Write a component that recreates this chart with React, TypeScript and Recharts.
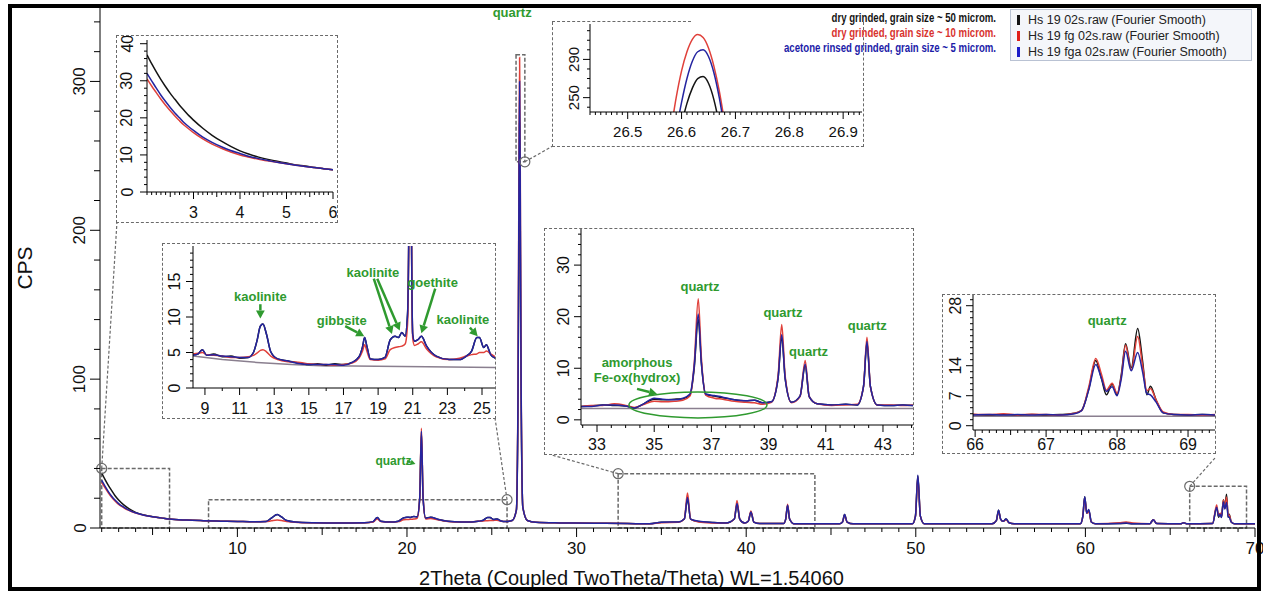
import React from 'react';
import { LineChart, Line, XAxis, YAxis, ReferenceArea, ReferenceLine, ReferenceDot } from 'recharts';

const FONT = "'Liberation Sans', Arial, sans-serif";
const BLACK = '#141414';
const RED = '#e0403a';
const BLUE = '#2424a0';
const GREEN = '#2f9a2f';
const GRAYBG = '#8a7f8f';
const DASH = '#6a6a6a';

// ---------------- main pattern ----------------
const mainTheta = [2.0, 2.2, 2.4, 2.6, 2.8, 3.0, 3.3, 3.6, 4.0, 4.5, 5.0, 5.5, 6.0, 7.0, 8.0, 9.0, 10.0, 11.0, 11.7, 12.0, 12.35, 12.6, 12.9, 13.4, 14.5, 16.0, 17.5, 18.0, 18.25, 18.45, 19.0, 19.5, 19.8, 20.0, 20.2, 20.4, 20.6, 20.75, 20.85, 20.95, 21.1, 21.4, 21.8, 22.4, 23.2, 23.8, 24.2, 24.5, 24.75, 24.9, 25.1, 25.3, 25.55, 25.8, 26.2, 26.45, 26.55, 26.6, 26.64, 26.68, 26.73, 26.83, 27.1, 27.6, 29.0, 31.0, 33.0, 34.3, 35.0, 36.0, 36.35, 36.54, 36.72, 37.2, 38.0, 38.8, 39.3, 39.46, 39.62, 39.9, 40.12, 40.28, 40.45, 40.8, 42.2, 42.33, 42.44, 42.56, 42.8, 45.5, 45.68, 45.8, 45.95, 46.3, 49.8, 49.98, 50.12, 50.27, 50.5, 54.5, 54.75, 54.88, 55.0, 55.15, 55.32, 55.5, 55.8, 59.7, 59.85, 59.96, 60.08, 60.2, 60.35, 60.6, 62.0, 62.4, 62.8, 63.8, 64.0, 64.2, 65.6, 65.8, 66.0, 67.5, 67.74, 67.85, 67.95, 68.02, 68.14, 68.22, 68.32, 68.42, 68.48, 68.6, 68.8, 70.0];
const mainBlack = [37, 32.5, 28.5, 25, 21.5, 18.8, 15.5, 13, 10.5, 8.7, 7.6, 6.8, 6.0, 5.3, 4.9, 4.6, 4.4, 4.2, 4.4, 6.6, 9, 7.4, 5, 4, 3.5, 3.3, 3.5, 4.2, 7, 4.5, 4, 4.6, 6.8, 7.3, 7.1, 7.8, 7.5, 20, 64, 20, 6.6, 7.2, 5.9, 4.5, 4, 4, 4.5, 5.2, 7.1, 7, 5.7, 6.1, 4.7, 4.3, 5, 12, 90, 200, 272, 200, 90, 14, 5, 3.8, 3.4, 3.2, 3, 2.8, 3.8, 4, 6, 19.5, 6, 4.4, 3.7, 3.3, 6, 16, 6, 3.3, 4.5, 10.5, 4, 3, 3, 6, 15, 6, 2.9, 2.8, 4, 9, 4, 2.8, 2.8, 8, 35, 8, 2.8, 2.9, 5, 12, 6, 4.5, 6, 3.5, 2.8, 2.8, 8, 21, 10, 12, 4, 2.8, 3, 3.2, 2.9, 2.9, 5.5, 3, 2.8, 3.5, 2.8, 3, 14, 7.2, 9.7, 7.2, 19, 13.5, 22.7, 7.2, 9.2, 4, 2.8, 2.8];
const mainRed = [30.5, 27, 23.5, 20.5, 18, 15.8, 13.6, 11.8, 10, 8.5, 7.5, 6.8, 6.0, 5.3, 4.9, 4.6, 4.4, 4.2, 4.3, 4.8, 5.3, 5, 4.3, 3.9, 3.5, 3.3, 3.5, 4.0, 6, 4.3, 3.9, 4.3, 5.5, 5.7, 5.8, 6, 6.5, 20, 67, 21, 6, 6.3, 5.5, 4.4, 4, 4.1, 4.5, 4.7, 4.9, 5, 5.1, 5.2, 4.6, 4.3, 5, 12, 100, 240, 316, 240, 100, 14, 5, 3.8, 3.4, 3.2, 3, 2.8, 3.6, 3.8, 6, 23.5, 6, 4.1, 3.4, 3.2, 6, 18.5, 6, 3.3, 4.5, 11.5, 4, 3, 3, 6, 16, 6, 2.9, 2.8, 4, 8.5, 4, 2.8, 2.8, 8, 34, 8, 2.8, 2.9, 5, 11, 6, 4.5, 5.5, 3.5, 2.8, 2.8, 8, 20, 10, 11, 4, 2.8, 3.5, 4, 3.3, 2.9, 5.5, 3, 2.8, 3.5, 2.8, 3, 15.5, 8.3, 9.9, 7.5, 18.8, 13, 20.8, 8.2, 8.7, 4, 2.8, 2.8];
const mainBlue = [32, 28, 24.3, 21.2, 18.6, 16.4, 14, 12, 10.2, 8.6, 7.5, 6.8, 6.0, 5.3, 4.9, 4.6, 4.4, 4.2, 4.4, 6.6, 9, 7.4, 5, 4, 3.5, 3.3, 3.5, 4.3, 7.1, 4.6, 4, 4.6, 6.8, 7.3, 7.1, 7.8, 7.4, 20, 65, 20, 6.6, 7.3, 5.9, 4.5, 4, 4, 4.5, 5.2, 7.1, 7, 5.7, 6.1, 4.7, 4.3, 5, 12, 95, 225, 300, 225, 95, 14, 5, 3.8, 3.4, 3.2, 3, 2.8, 3.9, 4.1, 6, 20.5, 6, 4.5, 3.7, 3.3, 6, 16.5, 6, 3.3, 4.5, 10.8, 4, 3, 3, 6, 15.2, 6, 2.9, 2.8, 4, 9, 4, 2.8, 2.8, 8, 35.5, 8, 2.8, 2.9, 5, 12, 6, 4.5, 6, 3.5, 2.8, 2.8, 8, 21, 10, 12.5, 4, 2.8, 3, 3.3, 2.9, 2.9, 5.5, 3, 2.8, 3.5, 2.8, 3, 14, 8, 9.1, 7, 17.4, 12.8, 17.1, 7.5, 7.2, 4, 2.8, 2.8];

// ---------------- inset A: 2-6 deg ----------------
const aTheta = [2.0, 2.1, 2.2, 2.3, 2.4, 2.5, 2.6, 2.7, 2.8, 2.9, 3.0, 3.2, 3.4, 3.6, 3.8, 4.0, 4.2, 4.4, 4.6, 4.8, 5.0, 5.2, 5.4, 5.6, 5.8, 6.0];
const aBlack = [37, 34.6, 32.4, 30.3, 28.4, 26.6, 25, 23.4, 22, 20.6, 19.4, 17.2, 15.3, 13.7, 12.3, 11.1, 10.2, 9.4, 8.8, 8.3, 7.8, 7.3, 7.0, 6.6, 6.3, 6.0];
const aRed = [30.5, 28.6, 26.8, 25, 23.4, 21.9, 20.5, 19.2, 18, 17, 16, 14.3, 12.9, 11.8, 10.8, 10, 9.4, 8.8, 8.4, 8.0, 7.6, 7.2, 6.9, 6.6, 6.3, 6.0];
const aBlue = [32, 30, 28, 26.1, 24.4, 22.8, 21.3, 20, 18.7, 17.6, 16.6, 14.8, 13.4, 12.2, 11.2, 10.4, 9.6, 9.0, 8.5, 8.0, 7.6, 7.2, 6.9, 6.6, 6.3, 6.0];

// ---------------- inset B: 8.3-25.8 deg ----------------
const bTheta = [8.3, 8.6, 8.85, 9.1, 9.5, 10.0, 10.5, 11.0, 11.5, 11.8, 12.0, 12.2, 12.35, 12.55, 12.8, 13.2, 13.8, 14.5, 15.0, 15.5, 16.0, 16.5, 17.0, 17.5, 17.9, 18.1, 18.22, 18.35, 18.55, 19.0, 19.4, 19.7, 19.98, 20.17, 20.37, 20.56, 20.7, 20.78, 20.85, 20.92, 21.0, 21.1, 21.3, 21.5, 21.8, 22.35, 23.1, 23.7, 24.1, 24.4, 24.7, 24.85, 25.1, 25.25, 25.5, 25.76];
const bBlack = [4.7, 4.8, 5.4, 4.6, 4.8, 4.4, 4.5, 4.2, 4.3, 5.0, 6.6, 8.7, 9.0, 7.6, 5.1, 4.1, 3.8, 3.5, 3.3, 3.4, 3.2, 3.4, 3.3, 3.6, 4.4, 5.8, 7.1, 5.9, 4.1, 4.0, 4.3, 6.8, 7.3, 7.1, 7.8, 7.3, 10.4, 25, 64, 25, 7.5, 6.6, 6.8, 7.3, 5.9, 4.5, 4.0, 4.0, 4.5, 5.2, 7.1, 7.1, 5.7, 6.1, 4.7, 4.2];
const bRed = [4.8, 4.9, 5.0, 4.7, 4.6, 4.5, 4.3, 4.3, 4.4, 4.6, 4.9, 5.3, 5.4, 5.1, 4.5, 4.0, 3.7, 3.6, 3.4, 3.3, 3.3, 3.2, 3.3, 3.5, 4.2, 5.2, 6.1, 5.2, 4.0, 3.9, 4.1, 5.4, 5.7, 5.8, 5.9, 6.2, 9, 25, 67, 25, 7, 6.0, 6.2, 6.5, 5.5, 4.4, 4.0, 4.2, 4.5, 4.7, 4.8, 5.0, 5.0, 5.2, 4.8, 4.4];
const bBlue = [4.6, 4.8, 5.4, 4.6, 4.7, 4.5, 4.4, 4.3, 4.3, 5.0, 6.6, 8.7, 9.0, 7.6, 5.1, 4.1, 3.8, 3.4, 3.3, 3.3, 3.3, 3.3, 3.2, 3.6, 4.4, 5.8, 7.1, 5.9, 4.1, 4.0, 4.3, 6.8, 7.3, 7.1, 7.8, 7.3, 10.4, 25, 65, 25, 7.5, 6.6, 6.8, 7.3, 5.9, 4.5, 4.0, 4.0, 4.5, 5.2, 7.1, 7.1, 5.7, 6.1, 4.7, 4.2];
const bBgTheta = [8.3, 10.0, 12.0, 14.0, 16.0, 17.5, 21.8, 25.8];
const bBg = [4.5, 4.0, 3.6, 3.3, 3.1, 3.1, 3.0, 2.9];

// ---------------- inset C: main quartz peak top ----------------
const cTheta = [26.58, 26.59, 26.6, 26.61, 26.62, 26.63, 26.64, 26.65, 26.66, 26.67, 26.68, 26.69];
const cBlack = [170, 195, 222, 244, 260, 270, 272, 265, 248, 222, 190, 160];
const cRed = [215, 250, 278, 298, 311, 316, 313, 302, 283, 257, 224, 190];
const cBlue = [180, 215, 245, 270, 288, 298, 300, 293, 276, 250, 216, 178];

// ---------------- inset D: 32.4-44 deg ----------------
const dTheta = [32.45, 32.8, 33.2, 33.6, 34.0, 34.3, 34.6, 35.0, 35.3, 35.7, 36.0, 36.25, 36.4, 36.54, 36.65, 36.8, 37.1, 37.4, 37.8, 38.2, 38.5, 38.8, 39.1, 39.33, 39.46, 39.58, 39.8, 40.1, 40.28, 40.42, 40.7, 41.2, 41.7, 42.1, 42.32, 42.44, 42.56, 42.8, 43.3, 43.7, 44.05];
const dBlack = [2.6, 2.7, 2.9, 2.8, 2.7, 2.3, 3.0, 4.0, 3.9, 4.0, 4.1, 4.8, 10, 19.5, 11, 5.0, 4.6, 4.3, 3.9, 3.7, 3.8, 3.3, 3.5, 8, 16, 8, 3.4, 4.6, 10.5, 4.5, 3.1, 2.9, 3.0, 2.9, 6.5, 15, 6.5, 2.9, 2.8, 2.9, 2.8];
const dRed = [2.6, 2.8, 2.8, 3.1, 2.8, 2.4, 2.9, 3.6, 3.5, 3.6, 3.8, 4.6, 11, 23.5, 12, 4.8, 4.2, 4.0, 3.6, 3.4, 3.3, 3.0, 3.4, 8.5, 18.5, 8.5, 3.3, 4.5, 11.5, 4.5, 3.1, 2.8, 2.9, 3.0, 6.5, 16, 6.5, 2.9, 2.9, 2.8, 2.9];
const dBlue = [2.6, 2.6, 2.9, 2.9, 2.7, 2.3, 3.0, 4.2, 4.0, 3.9, 4.2, 5.0, 10.5, 20.5, 11, 5.0, 4.7, 4.4, 3.9, 3.7, 3.8, 3.3, 3.5, 8, 16.5, 8, 3.4, 4.6, 10.8, 4.5, 3.1, 2.9, 3.0, 2.9, 6.5, 15.2, 6.5, 2.9, 2.8, 2.9, 2.8];
const dBgTheta = [32.45, 44.05];
const dBg = [2.2, 2.2];

// ---------------- inset E: 66-69.4 deg ----------------
const eTheta = [65.97, 66.2, 66.4, 66.6, 66.8, 67.0, 67.2, 67.4, 67.5, 67.6, 67.7, 67.78, 67.85, 67.93, 68.0, 68.06, 68.12, 68.2, 68.29, 68.36, 68.42, 68.47, 68.55, 68.65, 68.8, 69.0, 69.2, 69.38];
const eBlack = [2.6, 2.5, 2.6, 2.5, 2.6, 2.5, 2.6, 2.9, 3.6, 8.5, 15.2, 11, 7.2, 9.7, 7.2, 12, 19.1, 13.5, 22.7, 15, 7.2, 9.2, 6, 3, 2.6, 2.5, 2.6, 2.5];
const eRed = [2.7, 2.6, 2.8, 2.5, 2.7, 2.6, 2.5, 2.9, 3.5, 9, 15.7, 12, 8.3, 9.9, 7.6, 11.5, 18.8, 13, 20.8, 14, 8.2, 8.7, 6, 3.2, 2.6, 2.6, 2.5, 2.6];
const eBlue = [2.5, 2.6, 2.5, 2.6, 2.5, 2.6, 2.5, 2.8, 3.5, 8.3, 14.3, 11, 8.0, 9.1, 7.0, 11, 17.4, 12.8, 17.1, 12.5, 7.5, 7.2, 5.5, 3, 2.6, 2.5, 2.6, 2.5];
const eBgTheta = [65.97, 69.38];
const eBg = [2.2, 2.2];

// ---------------- axis labels ----------------
const mainXLabels = [10, 20, 30, 40, 50, 60, 70];
const mainYLabels = [0, 100, 200, 300];
const aXLabels = [3, 4, 5, 6];
const aYLabels = [0, 10, 20, 30, 40];
const bXLabels = [9, 11, 13, 15, 17, 19, 21, 23, 25];
const bYLabels = [0, 5, 10, 15];
const cXLabels = [26.5, 26.6, 26.7, 26.8, 26.9];
const cYLabels = [250, 290];
const dXLabels = [33, 35, 37, 39, 41, 43];
const dYLabels = [0, 10, 20, 30];
const eXLabels = [66, 67, 68, 69];
const eYLabels = [0, 7, 14, 28];

const legendNames = ['Hs 19 02s.raw (Fourier Smooth)', 'Hs 19 fg 02s.raw (Fourier Smooth)', 'Hs 19 fga 02s.raw (Fourier Smooth)'];
const sampleNotes = ['dry grinded, grain size ~ 50 microm.', 'dry grinded, grain size ~ 10 microm.', 'acetone rinsed grinded, grain size ~ 5 microm.'];

const toRows = (t: number[], bk: number[], rd: number[], bl: number[]) =>
  t.map((v, i) => ({ t: v, bk: bk[i], rd: rd[i], bl: bl[i] }));
const toBg = (t: number[], bg: number[]) => t.map((v, i) => ({ t: v, bg: bg[i] }));

const range = (a: number, b: number, s: number) => {
  const out: number[] = [];
  const n = Math.round((b - a) / s);
  for (let i = 0; i <= n; i++) out.push(+(a + i * s).toFixed(4));
  return out;
};
const has = (arr: number[], v: number) => arr.some((l) => Math.abs(l - v) < 1e-6);

function xTick(labels: number[], mids: number[], fs: number, off: number, lens = [8, 6, 4]) {
  return (p: any) => {
    const v = p.payload.value;
    const isL = has(labels, v);
    const isM = !isL && has(mids, v);
    const len = isL ? lens[0] : isM ? lens[1] : lens[2];
    return (
      <g>
        <line x1={p.x} x2={p.x} y1={p.y} y2={p.y + len} stroke="#000" strokeWidth={1} />
        {isL && (
          <text x={p.x} y={p.y + off} textAnchor="middle" dominantBaseline="central" fontSize={fs} fontFamily={FONT} fill="#111">
            {String(v)}
          </text>
        )}
      </g>
    );
  };
}
function yTick(labels: number[], mids: number[], fs: number, off: number, lens = [8, 6, 4]) {
  return (p: any) => {
    const v = p.payload.value;
    const isL = has(labels, v);
    const isM = !isL && has(mids, v);
    const len = isL ? lens[0] : isM ? lens[1] : lens[2];
    const tx = p.x - off;
    return (
      <g>
        <line x1={p.x} x2={p.x - len} y1={p.y} y2={p.y} stroke="#000" strokeWidth={1} />
        {isL && (
          <text x={tx} y={p.y} transform={`rotate(-90 ${tx} ${p.y})`} textAnchor="middle" dominantBaseline="central" fontSize={fs} fontFamily={FONT} fill="#111">
            {String(v)}
          </text>
        )}
      </g>
    );
  };
}

const noteShape = (text: string, size: number) => (p: any) => (
  <text x={p.cx} y={p.cy} textAnchor="middle" dominantBaseline="central" fill={GREEN} fontWeight="bold" fontSize={size} fontFamily={FONT}>
    {text}
  </text>
);
const arrowShape = (w: number, head: number) => (p: any) => {
  const { x1, y1, x2, y2 } = p;
  if ([x1, y1, x2, y2].some((v) => typeof v !== 'number' || isNaN(v))) return <g />;
  const ang = Math.atan2(y2 - y1, x2 - x1);
  const bx = x2 - head * Math.cos(ang);
  const by = y2 - head * Math.sin(ang);
  const hw = head * 0.55;
  const px = -Math.sin(ang) * hw;
  const py = Math.cos(ang) * hw;
  return (
    <g>
      <line x1={x1} y1={y1} x2={bx} y2={by} stroke={GREEN} strokeWidth={w} />
      <polygon points={`${x2},${y2} ${bx + px},${by + py} ${bx - px},${by - py}`} fill={GREEN} />
    </g>
  );
};

type Note = { text: string; x: number; y: number; size: number };
type Arrow = { x1: number; y1: number; x2: number; y2: number };

function renderNotes(notes: Note[], arrows: Arrow[], w = 2.5, head = 8) {
  const out: any[] = [];
  arrows.forEach((a, i) =>
    out.push(
      <ReferenceLine key={'a' + i} segment={[{ x: a.x1, y: a.y1 }, { x: a.x2, y: a.y2 }]} ifOverflow="visible" shape={arrowShape(w, head)} />
    )
  );
  notes.forEach((n, i) =>
    out.push(<ReferenceDot key={'n' + i} x={n.x} y={n.y} r={1} ifOverflow="visible" shape={noteShape(n.text, n.size)} />)
  );
  return out;
}

function seriesLines(withBg: boolean, bgData?: any[]) {
  const common = { dot: false, isAnimationActive: false, type: 'monotone' as const, strokeWidth: 1.5 };
  return [
    withBg ? <Line key="bg" data={bgData} dataKey="bg" stroke={GRAYBG} {...common} type="linear" /> : null,
    <Line key="bk" dataKey="bk" stroke={BLACK} {...common} />,
    <Line key="rd" dataKey="rd" stroke={RED} {...common} />,
    <Line key="bl" dataKey="bl" stroke={BLUE} {...common} />,
  ];
}

type InsetProps = {
  box: [number, number, number, number];
  margin: { top: number; right: number; left: number; bottom: number };
  yW: number;
  xH: number;
  rows: any[];
  bg?: any[];
  xDomain: [number, number];
  yDomain: [number, number];
  xTicks: number[];
  yTicks: number[];
  xLabels: number[];
  yLabels: number[];
  xMids?: number[];
  yMids?: number[];
  fs: number;
  xOff: number;
  yOff: number;
  extras?: any[];
  topGap?: number;
};

function Inset(pr: InsetProps) {
  const [L, T, W, H] = pr.box;
  const dashed = `1.5px dashed ${DASH}`;
  return (
    <>
      <div style={{ position: 'absolute', left: L, top: T, width: W, height: H, background: pr.topGap ? 'transparent' : '#fff', outline: pr.topGap ? 'none' : dashed }}>
        {pr.topGap ? <div style={{ position: 'absolute', left: 0, top: 0, width: W, height: H, background: '#fff', clipPath: `polygon(0 0, ${pr.topGap}px 0, ${pr.topGap}px 20px, ${W}px 20px, ${W}px ${H}px, 0 ${H}px)` }} /> : null}
        <div style={{ position: 'absolute', left: 0, top: 0 }}>
          <LineChart width={W} height={H} data={pr.rows} margin={pr.margin}>
            <XAxis
              dataKey="t"
              type="number"
              domain={pr.xDomain}
              allowDataOverflow
              ticks={pr.xTicks}
              interval={0}
              tickSize={0}
              tickMargin={0}
              height={pr.xH}
              axisLine={{ stroke: '#000' }}
              tickLine={false}
              tick={xTick(pr.xLabels, pr.xMids || [], pr.fs, pr.xOff, [7, 5, 3])}
            />
            <YAxis
              type="number"
              domain={pr.yDomain}
              allowDataOverflow
              ticks={pr.yTicks}
              interval={0}
              tickSize={0}
              tickMargin={0}
              width={pr.yW}
              axisLine={{ stroke: '#000' }}
              tickLine={false}
              tick={yTick(pr.yLabels, pr.yMids || [], pr.fs, pr.yOff, [7, 5, 3])}
            />
            {seriesLines(!!pr.bg, pr.bg)}
            {pr.extras}
          </LineChart>
        </div>
      </div>
      {pr.topGap ? (
        <>
          <div style={{ position: 'absolute', left: L - 1.5, top: T - 1.5, width: pr.topGap, height: 0, borderTop: dashed }} />
          <div style={{ position: 'absolute', left: L - 1.5, top: T, width: W + 1.5, height: H, borderLeft: dashed, borderRight: dashed, borderBottom: dashed, boxSizing: 'content-box' }} />
        </>
      ) : null}
    </>
  );
}

const mainRows = toRows(mainTheta, mainBlack, mainRed, mainBlue);

const bNotes: Note[] = [
  { text: 'kaolinite', x: 12.2, y: 12.9, size: 13 },
  { text: 'gibbsite', x: 16.9, y: 9.5, size: 13 },
  { text: 'kaolinite', x: 18.7, y: 16.3, size: 13 },
  { text: 'goethite', x: 22.15, y: 14.9, size: 13 },
  { text: 'kaolinite', x: 23.9, y: 9.6, size: 13 },
];
const bArrows: Arrow[] = [
  { x1: 12.2, y1: 11.8, x2: 12.2, y2: 9.8 },
  { x1: 17.1, y1: 8.7, x2: 18.2, y2: 7.3 },
  { x1: 18.75, y1: 15.4, x2: 19.8, y2: 7.6 },
  { x1: 18.95, y1: 15.4, x2: 20.25, y2: 8.1 },
  { x1: 22.3, y1: 14.0, x2: 21.5, y2: 7.7 },
  { x1: 24.3, y1: 8.5, x2: 24.75, y2: 7.3 },
];
const dNotes: Note[] = [
  { text: 'quartz', x: 36.6, y: 25.8, size: 13 },
  { text: 'quartz', x: 39.5, y: 20.8, size: 13 },
  { text: 'quartz', x: 40.4, y: 13.3, size: 13 },
  { text: 'quartz', x: 42.45, y: 18.2, size: 13 },
  { text: 'amorphous', x: 34.4, y: 11.2, size: 13 },
  { text: 'Fe-ox(hydrox)', x: 34.4, y: 8.2, size: 13 },
];
const dArrows: Arrow[] = [{ x1: 34.4, y1: 6.0, x2: 35.1, y2: 5.0 }];
const eNotes: Note[] = [{ text: 'quartz', x: 67.86, y: 24.6, size: 13 }];
const mainNotes: Note[] = [
  { text: 'quartz', x: 26.2, y: 346, size: 13 },
  { text: 'quartz', x: 19.2, y: 45, size: 12 },
];
const mainArrows: Arrow[] = [{ x1: 20.0, y1: 45, x2: 20.5, y2: 43 }];

const ellipseShape = (p: any) => (
  <ellipse cx={p.cx} cy={p.cy} rx={69} ry={13} fill="none" stroke={GREEN} strokeWidth={1.5} />
);

const circle = (x: number, y: number, k: string) => (
  <ReferenceDot key={k} x={x} y={y} r={5} fill="none" stroke={DASH} strokeWidth={1.2} ifOverflow="visible" />
);
const conn = (x1: number, y1: number, x2: number, y2: number, k: string) => (
  <ReferenceLine key={k} segment={[{ x: x1, y: y1 }, { x: x2, y: y2 }]} stroke={DASH} strokeWidth={1.2} strokeDasharray="3 2" ifOverflow="visible" />
);
const zoomBox = (x1: number, x2: number, y1: number, y2: number, k: string) => (
  <ReferenceArea key={k} x1={x1} x2={x2} y1={y1} y2={y2} fill="none" fillOpacity={0} stroke={DASH} strokeWidth={1.5} strokeDasharray="4 2" ifOverflow="visible" />
);

export default function App() {
  return (
    <div style={{ position: 'absolute', left: 0, top: 0, width: 1263, height: 592, background: '#fff', fontFamily: FONT, overflow: 'hidden' }}>
      <div style={{ position: 'absolute', left: 0, top: 0 }}>
        <LineChart width={1263} height={592} data={mainRows} margin={{ top: 7, right: 8, bottom: 34, left: 40 }}>
          <XAxis
            dataKey="t"
            type="number"
            domain={[1.9, 70]}
            allowDataOverflow
            ticks={range(2, 70, 1)}
            interval={0}
            tickSize={0}
            tickMargin={0}
            height={30}
            axisLine={{ stroke: '#000' }}
            tickLine={false}
            tick={xTick(mainXLabels, range(5, 65, 10), 17, 20, [9, 7, 4])}
          />
          <YAxis
            type="number"
            domain={[0, 350]}
            allowDataOverflow
            ticks={range(0, 340, 20)}
            interval={0}
            tickSize={0}
            tickMargin={0}
            width={60}
            axisLine={{ stroke: '#000' }}
            tickLine={false}
            tick={yTick(mainYLabels, [], 17, 20, [10, 6, 6])}
          />
          {zoomBox(2.0, 6, 0, 40, 'zA')}
          {zoomBox(8.3, 25.9, 0, 19, 'zB')}
          {zoomBox(26.43, 26.95, 246, 318, 'zC')}
          {zoomBox(32.45, 44.05, 0, 36.5, 'zD')}
          {zoomBox(66.15, 69.5, 0, 28, 'zE')}
          {conn(2.0, 40, 2.9, 205.6, 'cA')}
          {conn(25.9, 19, 25.19, 73.9, 'cB')}
          {conn(26.95, 246, 28.9, 258.6, 'cC')}
          {conn(32.45, 36.5, 28.55, 49, 'cD')}
          {conn(66.15, 28, 67.64, 47, 'cE')}
          {circle(2.0, 40, 'o1')}
          {circle(25.9, 19, 'o3')}
          {circle(26.95, 246, 'o5')}
          {circle(32.45, 36.5, 'o7')}
          {circle(66.15, 28, 'o9')}
          {seriesLines(false)}
          {renderNotes(mainNotes, mainArrows, 2, 5)}
        </LineChart>
      </div>

      {/* inset A */}
      <Inset
        box={[117, 36, 220, 186]}
        margin={{ top: 4, right: 4, left: 0, bottom: 0 }}
        yW={30}
        xH={30}
        rows={toRows(aTheta, aBlack, aRed, aBlue)}
        xDomain={[2, 6]}
        yDomain={[0, 41]}
        xTicks={range(2, 6, 0.1)}
        yTicks={range(0, 40, 2)}
        xLabels={aXLabels}
        yLabels={aYLabels}
        xMids={range(2.5, 5.5, 1)}
        fs={16}
        xOff={20}
        yOff={20}
      />
      {/* inset B */}
      <Inset
        box={[163, 244, 332, 174]}
        margin={{ top: 2, right: 0, left: 0, bottom: 0 }}
        yW={30}
        xH={30}
        rows={toRows(bTheta, bBlack, bRed, bBlue)}
        bg={toBg(bBgTheta, bBg)}
        xDomain={[8.31, 25.75]}
        yDomain={[0, 20]}
        xTicks={range(9, 25, 1)}
        yTicks={range(0, 19, 1)}
        xLabels={bXLabels}
        yLabels={bYLabels}
        fs={16}
        xOff={20}
        yOff={19}
        extras={renderNotes(bNotes, bArrows, 2.5, 8)}
      />
      {/* inset C */}
      <Inset
        box={[553, 22, 309, 124]}
        margin={{ top: 2, right: 0, left: 0, bottom: 0 }}
        yW={37}
        xH={34}
        rows={toRows(cTheta, cBlack, cRed, cBlue)}
        xDomain={[26.43, 26.935]}
        yDomain={[235, 327]}
        xTicks={range(26.43, 26.93, 0.01)}
        yTicks={range(240, 320, 10)}
        xLabels={cXLabels}
        yLabels={cYLabels}
        fs={15}
        xOff={19}
        yOff={16}
        topGap={139}
      />
      {/* inset D */}
      <Inset
        box={[545, 229, 368, 225]}
        margin={{ top: 0, right: 0, left: 0, bottom: 0 }}
        yW={36}
        xH={29}
        rows={toRows(dTheta, dBlack, dRed, dBlue)}
        bg={toBg(dBgTheta, dBg)}
        xDomain={[32.44, 44.05]}
        yDomain={[-1, 37]}
        xTicks={range(32.5, 44, 0.5)}
        yTicks={range(0, 36, 2)}
        xLabels={dXLabels}
        yLabels={dYLabels}
        fs={16}
        xOff={19}
        yOff={17}
        extras={[
          <ReferenceDot key="ell" x={36.53} y={2.9} r={1} ifOverflow="visible" shape={ellipseShape} />,
          ...renderNotes(dNotes, dArrows, 2.5, 8),
        ]}
      />
      {/* inset E */}
      <Inset
        box={[943, 295, 272, 158]}
        margin={{ top: 0, right: 0, left: 0, bottom: 0 }}
        yW={30}
        xH={23}
        rows={toRows(eTheta, eBlack, eRed, eBlue)}
        bg={toBg(eBgTheta, eBg)}
        xDomain={[65.97, 69.38]}
        yDomain={[-1, 30.5]}
        xTicks={range(66, 69.3, 0.1)}
        yTicks={range(0, 29.4, 1.4)}
        xLabels={eXLabels}
        yLabels={eYLabels}
        xMids={range(66.5, 68.5, 1)}
        fs={16}
        xOff={14}
        yOff={17}
        extras={renderNotes(eNotes, [], 2, 6)}
      />

      {/* sample description */}
      <div
        style={{
          position: 'absolute',
          left: 692,
          top: 10,
          width: 304,
          height: 47,
          textAlign: 'right',
          fontWeight: 'bold',
          fontSize: 13,
          lineHeight: '15px',
          whiteSpace: 'nowrap',
        }}
      >
        {sampleNotes.map((s, i) => (
          <div key={i} style={{ color: [BLACK, '#d8332e', '#1c1ca8'][i], transform: 'scaleX(0.74)', transformOrigin: 'right center' }}>
            {s}
          </div>
        ))}
      </div>

      {/* legend */}
      <div
        style={{
          position: 'absolute',
          left: 1010,
          top: 9,
          width: 242,
          height: 52,
          background: '#f4f6fa',
          border: '1px solid #b9c2d3',
          boxSizing: 'border-box',
          fontSize: 12.5,
          color: '#222',
          paddingTop: 2,
        }}
      >
        {legendNames.map((n, i) => (
          <div key={i} style={{ position: 'relative', height: 16, lineHeight: '16px', paddingLeft: 17, whiteSpace: 'nowrap' }}>
            <span style={{ position: 'absolute', left: 6, top: 3, width: 3, height: 10, background: [BLACK, '#e0201a', '#1c1cc8'][i] }} />
            {n}
          </div>
        ))}
      </div>

      {/* axis titles */}
      <div style={{ position: 'absolute', left: 0, width: 1263, top: 566, textAlign: 'center', fontSize: 20, lineHeight: '24px', color: '#111' }}>
        2Theta (Coupled TwoTheta/Theta) WL=1.54060
      </div>
      <div
        style={{
          position: 'absolute',
          left: 25,
          top: 268,
          transform: 'translate(-50%, -50%) rotate(-90deg)',
          fontSize: 21,
          color: '#111',
          whiteSpace: 'nowrap',
        }}
      >
        CPS
      </div>

      {/* outer frame */}
      <div style={{ position: 'absolute', left: 8, top: 4, width: 1253, height: 587, border: '4px solid #000', boxSizing: 'border-box', pointerEvents: 'none' }} />
    </div>
  );
}
